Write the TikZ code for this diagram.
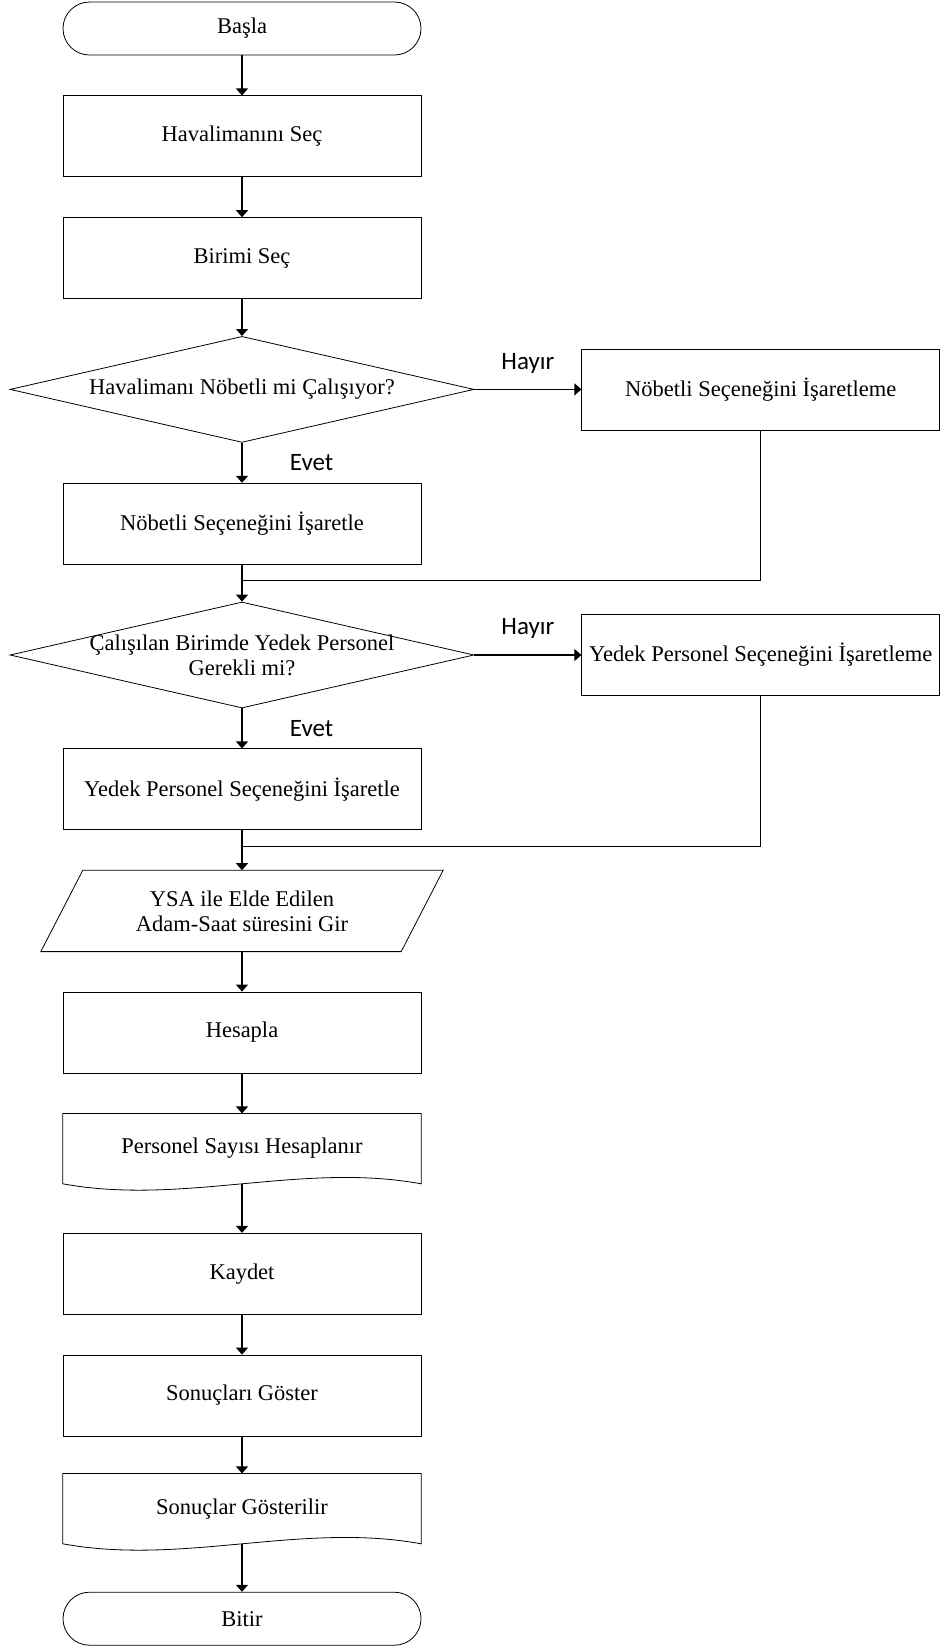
\documentclass[tikz,border=0pt]{standalone}
\usepackage{fontspec}
\setmainfont{Liberation Serif}
\newfontfamily\labelfont{Carlito}
\usetikzlibrary{arrows.meta,positioning,shapes.geometric}

\begin{document}
\begin{tikzpicture}[
    node distance=40pt and 107pt,
    font=\fontsize{22.5pt}{25pt}\selectfont,
    box/.style={draw, line width=0.8pt, align=center, minimum width=358pt, minimum height=81pt, inner sep=2pt},
    term/.style={box, rounded corners=26.5pt, minimum height=53pt},
    dec/.style={draw, line width=0.8pt, diamond, align=center, minimum width=464pt, minimum height=106pt, inner sep=0pt, shape aspect=4.4},
    io/.style={align=center, minimum width=360pt, minimum height=81pt},
    doc/.style={align=center, minimum width=358pt, minimum height=70pt},
    arr/.style={-{Triangle[length=7pt,width=12pt]}, line width=1.3pt},
    lin/.style={line width=1.3pt},
    lbl/.style={font=\labelfont\fontsize{25pt}{30pt}\selectfont}
]
\useasboundingbox (0,0) rectangle (942pt,-1650pt);
\node[term] (start) at (242pt,-28.5pt) {Başla};
\node[box, below=of start] (airport) {Havalimanını Seç};
\node[box, below=of airport] (unit) {Birimi Seç};
\node[dec, below=37pt of unit] (duty) {Havalimanı Nöbetli mi Çalışıyor?};
\node[box, right=of duty] (dutyno) {Nöbetli Seçeneğini İşaretleme};
\node[box, below=of duty] (dutyyes) {Nöbetli Seçeneğini İşaretle};
\coordinate[below=16pt of dutyyes] (join1);
\node[dec, below=37pt of dutyyes] (spare) {};
\node[align=center] (sparetext) at (spare) {Çalışılan Birimde Yedek Personel\\Gerekli mi?};
\node[box, right=of spare] (spareno) {Yedek Personel Seçeneğini İşaretleme};
\node[box, below=of spare] (spareyes) {Yedek Personel Seçeneğini İşaretle};
\coordinate[below=16pt of spareyes] (join2);
\node[io, below=of spareyes] (input) {YSA ile Elde Edilen\\Adam-Saat süresini Gir};
\node[box, below=of input] (calc) {Hesapla};
\node[doc, below=of calc] (count) {Personel Sayısı Hesaplanır};
\node[box, below=49pt of count] (save) {Kaydet};
\node[box, below=of save] (show) {Sonuçları Göster};
\node[doc, below=37pt of show] (result) {Sonuçlar Gösterilir};
\node[term, below=48pt of result] (stop) {Bitir};
% input and document outlines
\draw[line width=0.8pt] ([xshift=21pt]input.north west) -- ([xshift=21pt]input.north east) -- ([xshift=-21pt]input.south east) -- ([xshift=-21pt]input.south west) -- cycle;
\foreach \d in {count,result}
  \draw[line width=0.8pt] (\d.south west) -- (\d.north west) -- (\d.north east) -- (\d.south east) .. controls +(-120pt,22pt) and +(120pt,-22pt) .. (\d.south west) -- cycle;
\draw[arr] (start) -- (airport);
\draw[arr] (airport) -- (unit);
\draw[arr] (unit) -- (duty);
\draw[arr] (duty) -- node[lbl, right=44pt] {Evet} (dutyyes);
\draw[arr] (duty) -- node[lbl, above=12pt] {Hayır} (dutyno);
\draw[arr] (dutyyes) -- (spare);
\draw[lin] (dutyno.south) |- (join1);
\draw[arr] (spare) -- node[lbl, right=44pt] {Evet} (spareyes);
\draw[arr] (spare) -- node[lbl, above=12pt] {Hayır} (spareno);
\draw[arr] (spareyes) -- (input);
\draw[lin] (spareno.south) |- (join2);
\draw[arr] (input) -- (calc);
\draw[arr] (calc) -- (count);
\draw[arr] (count.south) -- (save);
\draw[arr] (save) -- (show);
\draw[arr] (show) -- (result);
\draw[arr] (result.south) -- (stop);
\end{tikzpicture}
\end{document}
